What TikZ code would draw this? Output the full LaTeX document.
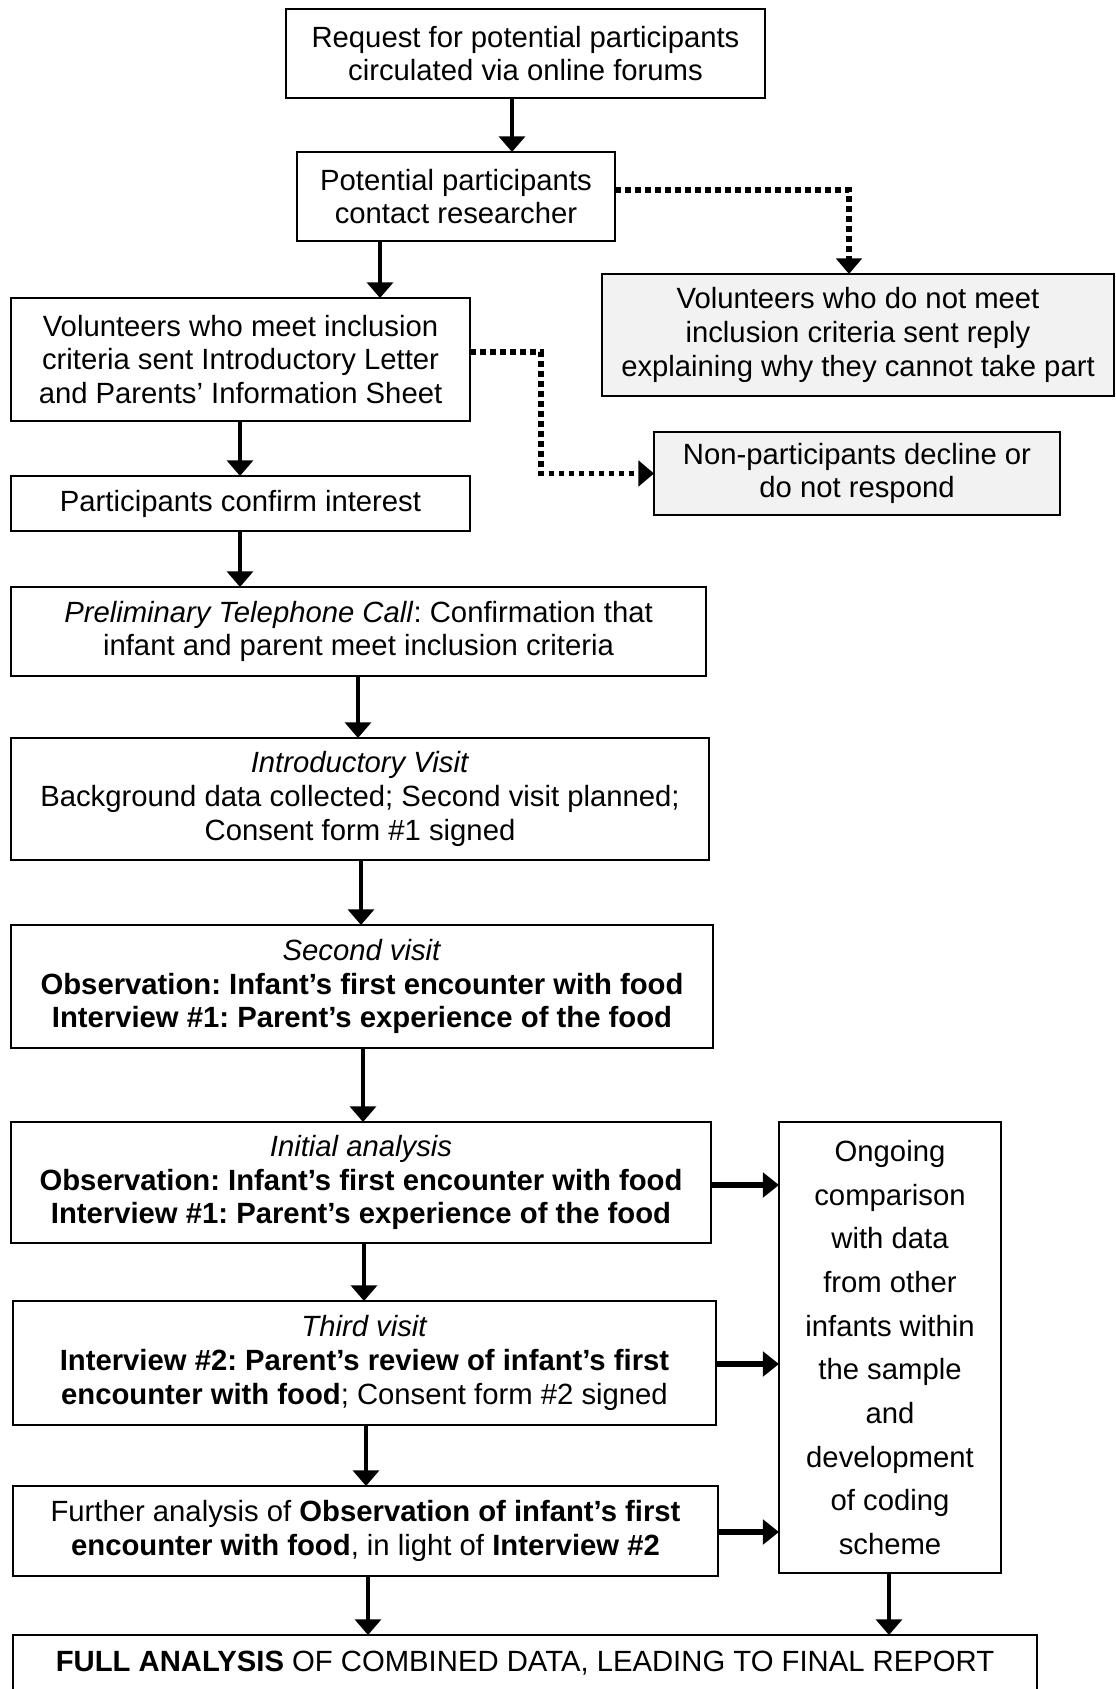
\documentclass[tikz,border=0pt]{standalone}
\usepackage{fontspec}
\setmainfont{Liberation Sans}
\usetikzlibrary{arrows.meta}
\definecolor{boxgrey}{HTML}{F2F2F2}
\newcommand\pxu{0.41pt}
\frenchspacing
\begin{document}
\begin{tikzpicture}[x=0.41pt,y=-0.41pt,
  every node/.style={font=\fontsize{12pt}{13.8pt}\selectfont},
  box/.style={draw, line width=0.55pt, inner sep=0pt, outer sep=0pt, align=center, fill=white},
  greybox/.style={box, fill=boxgrey},
  varrow/.style={line width=1.5pt, -{Triangle[width=10.6pt,length=6.4pt]}},
  harrow/.style={line width=2.4pt, -{Triangle[width=10pt,length=6.6pt]}},
  dotline/.style={line width=2.2pt, dash pattern=on 2.4pt off 1.7pt, -{Triangle[width=10.4pt,length=6.4pt]}},
]
\clip (0,0) rectangle (1115,1689);
\fill[white] (0,0) rectangle (1115,1689);

% recruitment stage
\node[box, minimum width=479*\pxu, minimum height=89*\pxu] (b1) at (525.5,53.5)
  {Request for potential participants\\circulated via online forums};
\node[box, minimum width=318*\pxu, minimum height=89*\pxu] (b2) at (456,196.5)
  {Potential participants\\contact researcher};
\node[greybox, minimum width=512*\pxu, minimum height=122*\pxu] (b3) at (858,335)
  {Volunteers who do not meet\\inclusion criteria sent reply\\explaining why they cannot take part};
\node[box, minimum width=459*\pxu, minimum height=123*\pxu] (b4) at (240.5,359.5)
  {Volunteers who meet inclusion\\criteria sent Introductory Letter\\and Parents’ Information Sheet};
\node[greybox, minimum width=406*\pxu, minimum height=83*\pxu] (b5) at (857,473.5)
  {Non-participants decline or\\do not respond};
\node[box, minimum width=459*\pxu, minimum height=55*\pxu] (b6) at (240.5,503.5)
  {Participants confirm interest};

% visits
\node[box, minimum width=695*\pxu, minimum height=89*\pxu] (b7) at (358.5,631.5)
  {\textit{Preliminary Telephone Call}: Confirmation that\\infant and parent meet inclusion criteria};
\node[box, minimum width=698*\pxu, minimum height=122*\pxu] (b8) at (360,799)
  {\textit{Introductory Visit}\\Background data collected; Second visit planned;\\Consent form \#1 signed};
\node[box, minimum width=702*\pxu, minimum height=123*\pxu] (b9) at (362,986.5)
  {\textit{Second visit}\\\textbf{Observation: Infant’s first encounter with food}\\\textbf{Interview \#1: Parent’s experience of the food}};

% analysis
\node[box, minimum width=700*\pxu, minimum height=121*\pxu] (b10) at (361,1182.5)
  {\textit{Initial analysis}\\\textbf{Observation: Infant’s first encounter with food}\\\textbf{Interview \#1: Parent’s experience of the food}};
\node[box, minimum width=703*\pxu, minimum height=124*\pxu] (b11) at (364.5,1363)
  {\textit{Third visit}\\\textbf{Interview \#2: Parent’s review of infant’s first}\\\textbf{encounter with food}; Consent form \#2 signed};
\node[box, minimum width=705*\pxu, minimum height=90*\pxu] (b12) at (365.5,1531)
  {Further analysis of \textbf{Observation of infant’s first}\\\textbf{encounter with food}, in light of \textbf{Interview \#2}};
\node[box, minimum width=222*\pxu, minimum height=451*\pxu,
      font=\fontsize{12pt}{17.9pt}\selectfont] (side) at (890,1347.5)
  {Ongoing\\comparison\\with data\\from other\\infants within\\the sample\\and\\development\\of coding\\scheme};
\node[box, minimum width=1024*\pxu, minimum height=56*\pxu] (b13) at (525,1663)
  {\textbf{FULL ANALYSIS} OF COMBINED DATA, LEADING TO FINAL REPORT};

% main flow
\draw[varrow] (b1.south -| 512,0) -- (b2.north -| 512,0);
\draw[varrow] (b2.south -| 380,0) -- (b4.north -| 380,0);
\draw[varrow] (b4.south -| 240,0) -- (b6.north -| 240,0);
\draw[varrow] (b6.south -| 240,0) -- (b7.north -| 240,0);
\draw[varrow] (b7.south -| 358,0) -- (b8.north -| 358,0);
\draw[varrow] (b8.south -| 361,0) -- (b9.north -| 361,0);
\draw[varrow] (b9.south -| 363,0) -- (b10.north -| 363,0);
\draw[varrow] (b10.south -| 364,0) -- (b11.north -| 364,0);
\draw[varrow] (b11.south -| 366,0) -- (b12.north -| 366,0);
\draw[varrow] (b12.south -| 368,0) -- (b13.north -| 368,0);
\draw[varrow] (side.south -| 889,0) -- (b13.north -| 889,0);

% feeds into the ongoing comparison
\draw[harrow] (b10.east |- 0,1185) -- (side.west |- 0,1185);
\draw[harrow] (b11.east |- 0,1364) -- (side.west |- 0,1364);
\draw[harrow] (b12.east |- 0,1532) -- (side.west |- 0,1532);

% exits
\draw[dotline] (b2.east |- 0,190) -- (849,190) -- (b3.north -| 849,0);
\draw[dotline] (b4.east |- 0,352) -- (541,352) -- (541,473.5) -- (b5.west);
\end{tikzpicture}
\end{document}
